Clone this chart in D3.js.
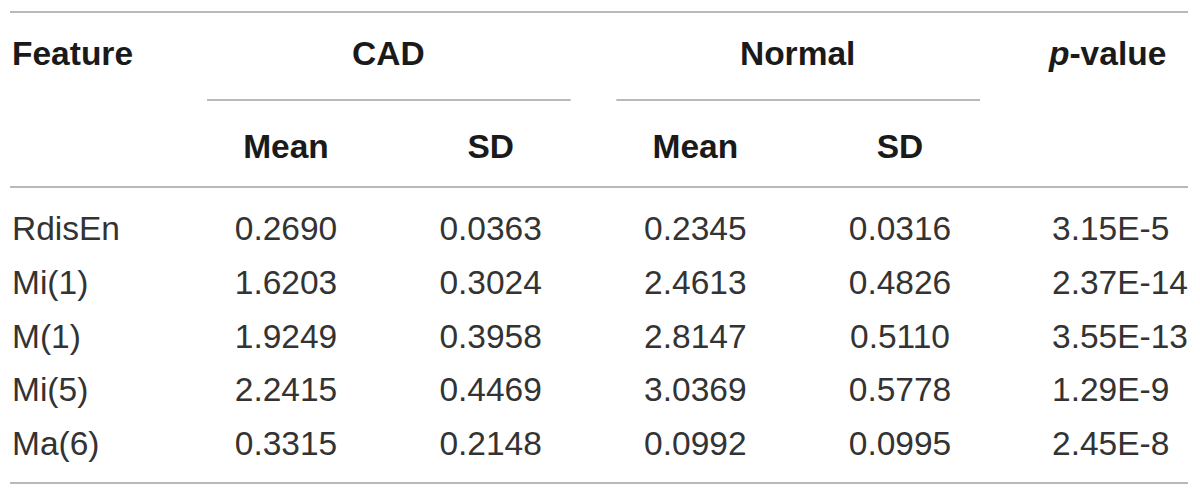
<!DOCTYPE html>
<html>
<head>
<meta charset="utf-8">
<script src="https://cdn.jsdelivr.net/npm/d3@7"></script>
<style>
  html, body { margin: 0; padding: 0; background: #fff; }
  svg { display: block; font-family: "Liberation Sans", Arial, Helvetica, sans-serif; }
</style>
</head>
<body>
<svg id="table"></svg>
<script>
// table contents
var features = ["RdisEn", "Mi(1)", "M(1)", "Mi(5)", "Ma(6)"]
var cadMean = ["0.2690", "1.6203", "1.9249", "2.2415", "0.3315"]
var cadSD = ["0.0363", "0.3024", "0.3958", "0.4469", "0.2148"]
var normalMean = ["0.2345", "2.4613", "2.8147", "3.0369", "0.0992"]
var normalSD = ["0.0316", "0.4826", "0.5110", "0.5778", "0.0995"]
var pValues = ["3.15E-5", "2.37E-14", "3.55E-13", "1.29E-9", "2.45E-8"]
var groups = ["CAD", "Normal"]
var subHeads = ["Mean", "SD"]

var width = 1200, height = 498

var svg = d3.select("#table")
  .attr("width", width)
  .attr("height", height)

// value columns
var cols = ["cadMean", "cadSD", "normalMean", "normalSD"]
var colData = { cadMean: cadMean, cadSD: cadSD, normalMean: normalMean, normalSD: normalSD }

var x = d3.scalePoint()
  .domain(cols)
  .range([286, 900])

var pX = 1052
var featureX = 12

var y = d3.scalePoint()
  .domain(features)
  .range([240, 455])

var lineColor = "#b9b9b9"
var fontSize = 33.5
var headY = 65

// rules
function hline(x1, x2, yy) {
  svg.append("line")
    .attr("x1", x1).attr("x2", x2)
    .attr("y1", yy).attr("y2", yy)
    .attr("stroke", lineColor)
    .attr("stroke-width", 2)
}
hline(10, 1188, 12)
hline(10, 1188, 187)
hline(10, 1188, 483)

// group headers with underline spanning Mean + SD
groups.forEach(function(g, i) {
  var c0 = cols[i * 2], c1 = cols[i * 2 + 1]
  var cx = (x(c0) + x(c1)) / 2
  svg.append("text")
    .attr("x", cx)
    .attr("y", headY)
    .attr("text-anchor", "middle")
    .attr("font-size", fontSize)
    .attr("font-weight", "bold")
    .attr("fill", "#1a1a1a")
    .text(g)
  hline(x(c0) - 79, x(c1) + 80, 100)
})

svg.append("text")
  .attr("x", featureX)
  .attr("y", headY)
  .attr("font-size", fontSize)
  .attr("font-weight", "bold")
  .attr("fill", "#1a1a1a")
  .text("Feature")

var pHead = svg.append("text")
  .attr("x", 1049)
  .attr("y", headY)
  .attr("font-size", fontSize)
  .attr("font-weight", "bold")
  .attr("fill", "#1a1a1a")
pHead.append("tspan").attr("font-style", "italic").text("p")
pHead.append("tspan").text("-value")

// Mean / SD sub headers
svg.selectAll("text.sub")
  .data(cols)
  .join("text")
  .attr("class", "sub")
  .attr("x", d => x(d))
  .attr("y", 158)
  .attr("text-anchor", "middle")
  .attr("font-size", fontSize)
  .attr("font-weight", "bold")
  .attr("fill", "#1a1a1a")
  .text((d, i) => subHeads[i % 2])

// body rows
var body = svg.append("g")
  .attr("font-size", fontSize)
  .attr("fill", "#333")

body.selectAll("text.feat")
  .data(features)
  .join("text")
  .attr("class", "feat")
  .attr("x", featureX)
  .attr("y", d => y(d))
  .text(d => d)

cols.forEach(function(c) {
  body.selectAll("text." + c)
    .data(colData[c])
    .join("text")
    .attr("class", c)
    .attr("x", x(c))
    .attr("y", (d, i) => y(features[i]))
    .attr("text-anchor", "middle")
    .text(d => d)
})

body.selectAll("text.pval")
  .data(pValues)
  .join("text")
  .attr("class", "pval")
  .attr("x", pX)
  .attr("y", (d, i) => y(features[i]))
  .text(d => d)
</script>
</body>
</html>
